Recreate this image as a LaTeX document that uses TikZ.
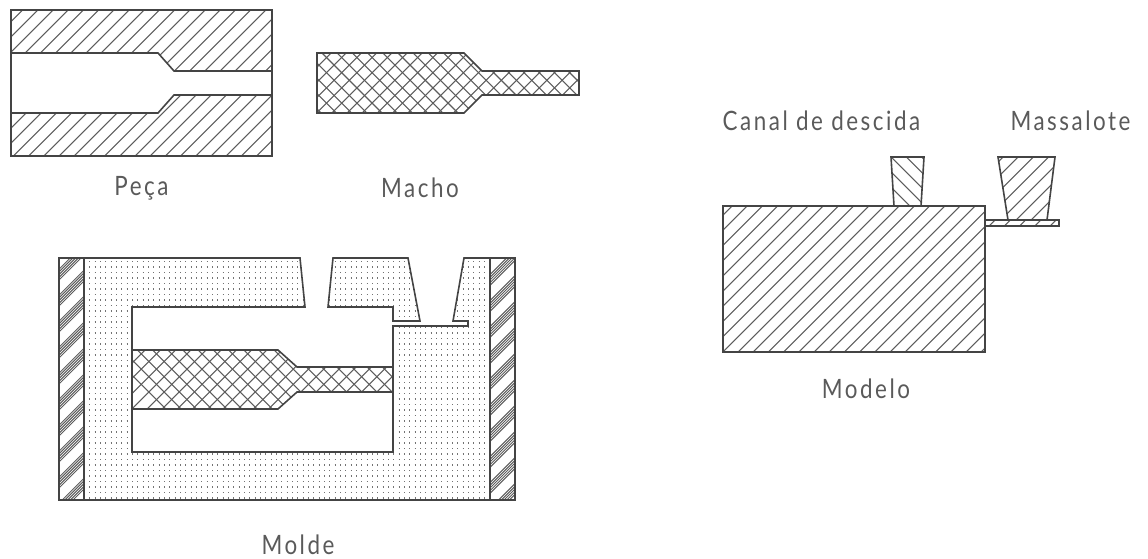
\documentclass[tikz,border=0pt]{standalone}
\usepackage{fontspec}
\setmainfont{Lato}
\newfontfamily\partfont[FakeStretch=0.84,LetterSpace=9.5]{Lato}
\usepackage{tikz}
\usetikzlibrary{positioning}

\definecolor{inkline}{HTML}{444444}
\definecolor{hatchline}{HTML}{5C5C5C}
\definecolor{labelink}{HTML}{5A5A5A}

\tikzset{
  outline/.style={draw=inkline, line width=1.2pt, line join=miter},
  hatchstroke/.style={draw=hatchline, line width=0.8pt},
  wallstroke/.style={draw=hatchline, line width=0.75pt},
  sandstroke/.style={draw=black!55, line width=0.85pt, dash pattern=on 0.85pt off 3.15pt},
  partlabel/.style={text=labelink, font=\fontsize{20}{22}\selectfont\partfont, inner sep=0pt, anchor=base}
}

% hatching: region, first offset, number of lines, spacing
\newcommand{\hatchup}[4]{
  \begin{scope}
    \clip #1;
    \foreach \n in {0,...,#3} {
      \draw[hatchstroke] ({#2+\n*#4},0) -- ++(-700,700);
    }
  \end{scope}
}
\newcommand{\hatchdown}[4]{
  \begin{scope}
    \clip #1;
    \foreach \n in {0,...,#3} {
      \draw[hatchstroke] ({#2+\n*#4},0) -- ++(700,700);
    }
  \end{scope}
}
% wall: bands of close lines
\newcommand{\wallbands}[2]{
  \begin{scope}
    \clip #1;
    \foreach \n in {0,...,11} {
      \foreach \off in {-5.4,-2.7,0,2.7,5.4} {
        \draw[wallstroke] ({#2+\n*26+\off},0) -- ++(-700,700);
      }
    }
  \end{scope}
}

\begin{document}
\begin{tikzpicture}[x=0.75pt, y=-0.75pt]
    \useasboundingbox (0,0) rectangle (1148,558);

    % -------------------------------------------------------
    % 1. Peca
    % -------------------------------------------------------
    \def\pecaupper{(11,10) -- (272,10) -- (272,71) -- (174,71) -- (158,53) -- (11,53) -- cycle}
    \def\pecalower{(11,113) -- (158,113) -- (174,95) -- (272,95) -- (272,156) -- (11,156) -- cycle}
    \hatchup{\pecaupper}{2.2}{30}{15.2}
    \hatchup{\pecalower}{2.2}{30}{15.2}
    \draw[outline] \pecaupper;
    \draw[outline] \pecalower;
    \draw[outline] (11,53) -- (11,113);
    \draw[outline] (272,71) -- (272,95);
    \node[partlabel] (peca) at (141.5,195) {Peça};

    % -------------------------------------------------------
    % 2. Macho
    % -------------------------------------------------------
    \def\machobody{(317,53) -- (464,53) -- (482,71) -- (579,71) -- (579,95) -- (482,95) -- (464,113) -- (317,113) -- cycle}
    \hatchup{\machobody}{308}{40}{15.2}
    \hatchdown{\machobody}{193}{30}{15.2}
    \draw[outline] \machobody;
    \node[partlabel] (macho) at (420,197) {Macho};

    % -------------------------------------------------------
    % 3. Molde
    % -------------------------------------------------------
    \def\moldesand{(84,258) -- (300,258) -- (305,307) -- (132,307) -- (132,452) -- (393,452) -- (393,326) -- (468,326) -- (468,321) -- (453,321) -- (464,258) -- (490,258) -- (490,500) -- (84,500) -- cycle}
    \def\moldetop{(333,258) -- (408,258) -- (420,321) -- (393,321) -- (393,307) -- (328,307) -- cycle}
    \def\moldecore{(132,350) -- (278,350) -- (297,367) -- (393,367) -- (393,392) -- (297,392) -- (278,409) -- (132,409) -- cycle}
    \def\wallleft{(59,258) rectangle (84,500)}
    \def\wallright{(490,258) rectangle (515,500)}

    % sand grains, row by row
    \begin{scope}
      \clip \moldesand \moldetop;
      \foreach \n in {0,...,44} {
        \draw[sandstroke] (84,{261.5+\n*5.5}) -- (490,{261.5+\n*5.5});
      }
    \end{scope}

    \wallbands{\wallleft}{307.6}
    \wallbands{\wallright}{744}
    \hatchup{\moldecore}{404}{36}{15.2}
    \hatchdown{\moldecore}{-243}{22}{15.2}

    \draw[outline] \moldesand;
    \draw[outline] \moldetop;
    \draw[outline] \moldecore;
    \draw[outline] \wallleft;
    \draw[outline] \wallright;
    \node[partlabel] (molde) at (298,554) {Molde};

    % -------------------------------------------------------
    % 4. Modelo
    % -------------------------------------------------------
    \def\modelobody{(723,206) rectangle (985,352)}
    \def\modelocanal{(891,157) -- (924,157) -- (921,206) -- (894,206) -- cycle}
    \def\modelomassa{(998,157) -- (1055,157) -- (1047,220) -- (1008,220) -- cycle}
    \def\modelofeed{(985,220) rectangle (1059,226)}
    \hatchup{\modelobody}{938.0}{28}{15.2}
    \hatchdown{\modelocanal}{688.6}{6}{15.2}
    \hatchup{\modelomassa}{1160}{8}{15.2}
    \hatchup{\modelofeed}{1200}{8}{15.2}
    \draw[outline] \modelobody;
    \draw[outline] \modelocanal;
    \draw[outline] \modelomassa;
    \draw[outline] \modelofeed;
    \node[partlabel] (canal) at (821.5,130) {Canal de descida};
    \node[partlabel] (massalote) at (1070.5,130) {Massalote};
    \node[partlabel] (modelo) at (866,398) {Modelo};
\end{tikzpicture}
\end{document}
